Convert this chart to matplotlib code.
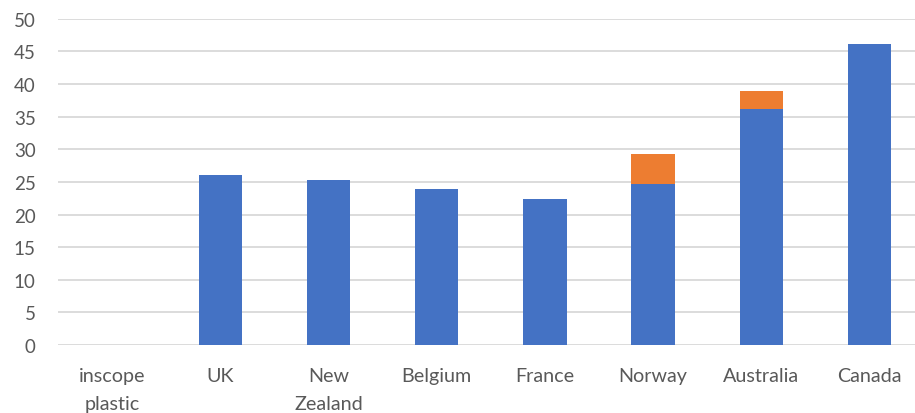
import matplotlib.pyplot as plt
import numpy as np

categories = ['inscope\nplastic', 'UK', 'New\nZealand', 'Belgium', 'France', 'Norway', 'Australia', 'Canada']
base_values = [0, 26.1, 25.3, 23.9, 22.4, 24.7, 36.2, 46.2]
extra_values = [0, 0, 0, 0, 0, 4.6, 2.8, 0]
y_ticks = [0, 5, 10, 15, 20, 25, 30, 35, 40, 45, 50]

blue = '#4472C4'
orange = '#ED7D31'
text_grey = '#595959'

plt.rcParams['font.family'] = ['Lato', 'DejaVu Sans']

fig = plt.figure(figsize=(9.15, 4.14), dpi=100)
ax = fig.add_axes([0.0634, 0.164, 0.946, 0.788])

x = np.arange(len(categories))
width = 0.4
ax.bar(x, base_values, width, color=blue, zorder=2)
ax.bar(x, extra_values, width, bottom=base_values, color=orange, zorder=2)

ax.set_xlim(-0.5, len(categories) - 0.5)
ax.set_ylim(0, 50)
ax.set_yticks(y_ticks)
ax.set_xticks(x)
ax.set_xticklabels(categories, linespacing=1.75)

ax.grid(axis='y', color='#D9D9D9', linewidth=1.3, zorder=0)
ax.set_axisbelow(True)
for s in ax.spines.values():
    s.set_visible(False)
ax.tick_params(axis='both', length=0, labelsize=13.5, colors=text_grey)
ax.tick_params(axis='x', labelsize=14.2)
ax.tick_params(axis='y', pad=16)
ax.tick_params(axis='x', pad=16)
for lab in ax.get_xticklabels():
    lab.set_verticalalignment('top')

fig.savefig('out.png', dpi=100)
